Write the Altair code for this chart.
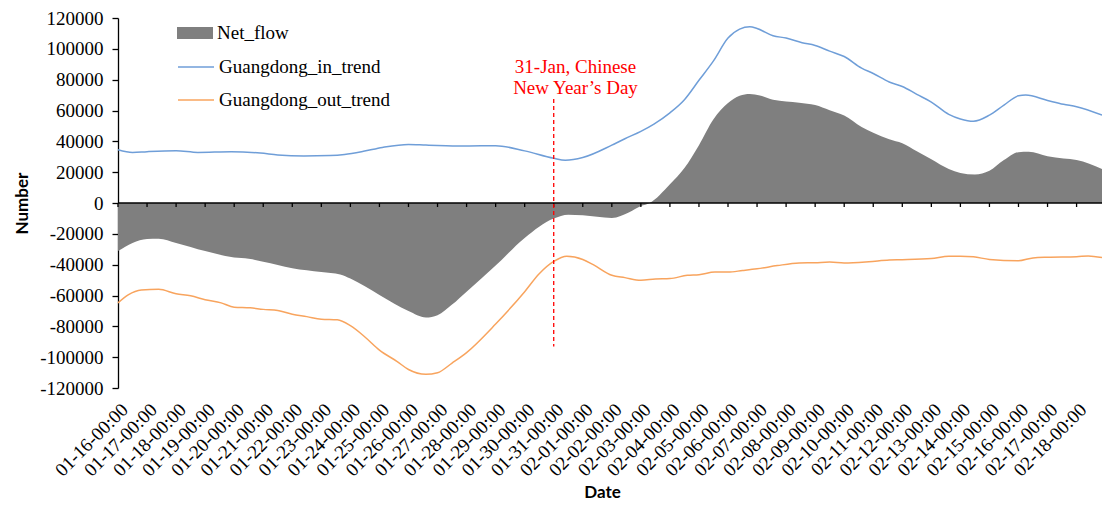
import altair as alt
import pandas as pd

START = "2014-01-16"

# Net flow (gray area), day offsets from 01-16 00:00 and values
net_days = [0, 0.5, 1.0, 1.4, 2.0, 3.0, 4.0, 4.5, 5.0, 6.0, 7.0, 7.65, 8.0, 9.0, 10.0, 10.6,
            11.0, 11.5, 12.0, 13.0, 14.0, 15.0, 15.5, 16.0, 17.0, 17.6, 18.0, 18.3, 19.0, 19.5,
            20.0, 20.5, 21.0, 21.4, 21.75, 22.1, 22.55, 23.45, 24.0, 24.5, 25.0, 25.6, 26.0,
            26.55, 27.0, 27.5, 28.0, 28.6, 29.0, 29.5, 30.0, 30.5, 31.0, 31.35, 32.0, 32.55,
            33.0, 33.875]
net_values = [-31200, -25900, -23400, -23200, -25900, -31200, -35400, -36200, -38100, -42300,
              -44800, -46300, -49000, -59600, -70100, -74300, -72800, -65900, -57500, -40600,
              -22700, -10100, -7600, -8000, -9700, -6000, -2000, 0, 12200, 22700,
              37500, 54300, 64800, 69500, 70700, 69700, 66900, 65100, 63600, 60200, 56700,
              49300, 45500, 41400, 38800, 33600, 28300, 22000, 19500, 18500, 21000, 27900,
              33000, 33200, 30400, 28800, 27900, 22000]

# Guangdong_in_trend (blue line)
in_days = [0, 0.5, 1.0, 2.0, 2.75, 3.9, 4.9, 5.5, 6.4, 7.3, 7.8, 8.45, 9.1, 10.0, 10.6, 11.3,
           12.0, 13.0, 14.0, 15.0, 15.4, 16.0, 17.0, 17.45, 18.0, 18.45, 19.0, 19.5, 20.0,
           20.5, 21.0, 21.4, 21.75, 22.0, 22.55, 23.0, 23.55, 24.0, 24.5, 25.0, 25.6, 26.0,
           26.55, 27.0, 27.5, 28.0, 28.6, 29.0, 29.45, 30.0, 30.5, 31.0, 31.25, 32.0, 32.55,
           33.0, 33.875]
in_values = [34500, 32800, 33300, 33900, 32800, 33300, 32400, 31200, 30500, 30800, 31500,
             33500, 36000, 38000, 37600, 37200, 37000, 37200, 33800, 29000, 27800, 29500,
             37500, 41700, 46500, 51200, 58500, 67000, 79600, 92200, 107000, 112800, 114300,
             113200, 108500, 107000, 104000, 102200, 98500, 95000, 87500, 84000, 78500, 75600,
             70500, 65500, 57500, 54500, 53000, 57000, 63500, 69500, 70000, 66500, 64000,
             62500, 57000]

# Guangdong_out_trend (orange line)
out_days = [0, 0.35, 0.8, 1.4, 2.0, 2.5, 3.0, 3.55, 4.0, 4.55, 5.0, 5.5, 6.0, 6.5, 7.0, 7.55,
            8.0, 8.5, 9.0, 9.6, 10.0, 10.6, 11.0, 11.5, 12.0, 13.0, 14.0, 14.5, 15.0, 15.45,
            16.0, 16.36, 17.0, 17.45, 18.0, 18.5, 19.0, 19.6, 20.0, 20.55, 21.0, 21.5, 22.0,
            22.7, 23.45, 24.0, 24.5, 25.0, 25.85, 26.55, 27.0, 28.0, 28.6, 29.0, 29.45, 30.0,
            31.0, 31.5, 32.0, 33.0, 33.4, 33.875]
out_values = [-64800, -59600, -56400, -56000, -58900, -60200, -62700, -64800, -67600, -68000,
              -69000, -69700, -72200, -73700, -75400, -75800, -79600, -86900, -95400, -102700,
              -108000, -111100, -110100, -103800, -97000, -78500, -57500, -45900, -37900,
              -34500, -36600, -40000, -46900, -48400, -50100, -49300, -49000, -46900, -46500,
              -44800, -44800, -43800, -42700, -40600, -38900, -38700, -38300, -38900, -38100,
              -37000, -36800, -36000, -34500, -34500, -34900, -36600, -37500, -35600, -35200,
              -34900, -34300, -35400]

area_names = ["Net_flow"]
area_colors = ["#7f7f7f"]
line_names = ["Guangdong_in_trend", "Guangdong_out_trend"]
line_colors = ["#6f9ed8", "#f8a45e"]

y_ticks = list(range(-120000, 120001, 20000))
tick_days = list(range(34))
tick_len = [0, -2600]  # zero-line tick marks hang just below 0

holiday_time = ["2014-01-31T00:00:00"]
holiday_top = [67500]
holiday_bottom = [-93000]

annotation_lines = ["31-Jan, Chinese", "New Year\u2019s Day"]
annotation_time = ["2014-01-31T18:00:00", "2014-01-31T18:00:00"]
annotation_y = [88400, 74500]

base = pd.Timestamp(START)


def to_ts(days):
    return [(base + pd.Timedelta(days=d)).strftime("%Y-%m-%dT%H:%M:%S") for d in days]


net_df = pd.DataFrame({"time": to_ts(net_days), "value": net_values, "series": area_names[0]})
line_df = pd.concat([
    pd.DataFrame({"time": to_ts(in_days), "value": in_values, "series": line_names[0]}),
    pd.DataFrame({"time": to_ts(out_days), "value": out_values, "series": line_names[1]}),
])
rule_df = pd.DataFrame({"time": holiday_time, "top": holiday_top, "bottom": holiday_bottom})
text_df = pd.DataFrame({"time": annotation_time, "y": annotation_y, "label": annotation_lines})
tick_df = pd.DataFrame({"time": to_ts(tick_days), "y0": tick_len[0], "y1": tick_len[1]})
zero_df = pd.DataFrame({"t0": [to_ts([0])[0]], "t1": ["2014-02-18T21:00:00"], "y": [0]})

tick_vals = []
for d in tick_days:
    t = base + pd.Timedelta(days=d)
    tick_vals.append(alt.DateTime(year=t.year, month=t.month, date=t.day))

W, H = 984, 370
x_scale = alt.Scale(domain=[alt.DateTime(year=2014, month=1, date=16),
                            alt.DateTime(year=2014, month=2, date=18, hours=21)])
y_scale = alt.Scale(domain=[-120000, 120000], nice=False, zero=False)

SERIF = "Liberation Serif"
BOLD_SANS = "Lato"

y_axis = alt.Axis(values=y_ticks, format="d", labelExpr="replace(datum.label, '\u2212', '-')",
                  title="Number", tickSize=6, labelPadding=9, titlePadding=8, grid=False)

x_axis = alt.Axis(values=tick_vals, format="%m-%d-%H:%M", labelAngle=-45,
                  labelAlign="right", labelBaseline="top", labelPadding=12,
                  labelOverlap=False, labelFlush=False, labelBound=False, ticks=False,
                  domain=False, grid=False, title="Date",
                  titleX=484, titleY=104, titleAlign="center", titleBaseline="middle")

area_legend = alt.Legend(
    title=None, orient="none", legendX=59, legendY=-3, direction="vertical",
    labelFont=SERIF, labelFontSize=19, labelColor="black", labelLimit=0, labelOffset=4,
    symbolType="M-1,-0.34H1V0.34H-1Z", symbolSize=1296, symbolStrokeWidth=0,
    symbolOpacity=1, padding=0,
)
line_legend = alt.Legend(
    title=None, orient="none", legendX=59, legendY=30, direction="vertical",
    labelFont=SERIF, labelFontSize=19, labelColor="black", labelLimit=0, labelOffset=4,
    symbolType="stroke", symbolSize=1296, symbolStrokeWidth=1.5, rowPadding=4,
    symbolOpacity=1, padding=0,
)


def X(field):
    return alt.X(field, scale=x_scale, axis=x_axis)


def Y(field):
    return alt.Y(field, scale=y_scale, axis=y_axis)


area = alt.Chart(net_df).mark_area(interpolate="monotone", opacity=1).encode(
    x=X("time:T"), y=Y("value:Q"),
    fill=alt.Fill("series:N", scale=alt.Scale(domain=area_names, range=area_colors),
                  legend=area_legend),
)

lines = alt.Chart(line_df).mark_line(interpolate="monotone", strokeWidth=1.5).encode(
    x=X("time:T"), y=Y("value:Q"),
    stroke=alt.Stroke("series:N", scale=alt.Scale(domain=line_names, range=line_colors),
                      legend=line_legend),
)

zero_line = alt.Chart(zero_df).mark_rule(color="black", strokeWidth=1.3).encode(
    x=X("t0:T"), x2="t1:T", y=Y("y:Q"),
)

zero_ticks = alt.Chart(tick_df).mark_rule(color="black", strokeWidth=1.3).encode(
    x=X("time:T"), y=Y("y0:Q"), y2="y1:Q",
)

rule = alt.Chart(rule_df).mark_rule(color="#ff0000", strokeDash=[4, 3], strokeWidth=1.3).encode(
    x=X("time:T"), y=Y("top:Q"), y2="bottom:Q",
)

text = alt.Chart(text_df).mark_text(color="#ff0000", font=SERIF, fontSize=19, align="center",
                                    baseline="middle").encode(
    x=X("time:T"), y=Y("y:Q"), text="label:N",
)

chart = alt.layer(area, lines, zero_line, zero_ticks, rule, text).properties(
    width=W, height=H,
    autosize=alt.AutoSizeParams(type="none"),
    padding={"left": 110, "top": 10, "right": 0, "bottom": 113},
    background="white",
).configure_view(stroke=None).configure_axis(
    labelFont=SERIF, labelFontSize=19, labelColor="black",
    titleFont=BOLD_SANS, titleFontSize=17, titleFontWeight="bold", titleColor="black",
    domainColor="black", domainWidth=1.3, tickColor="black", tickWidth=1.3,
)

chart.save("out.html", embed_options={"renderer": "svg", "actions": False})
